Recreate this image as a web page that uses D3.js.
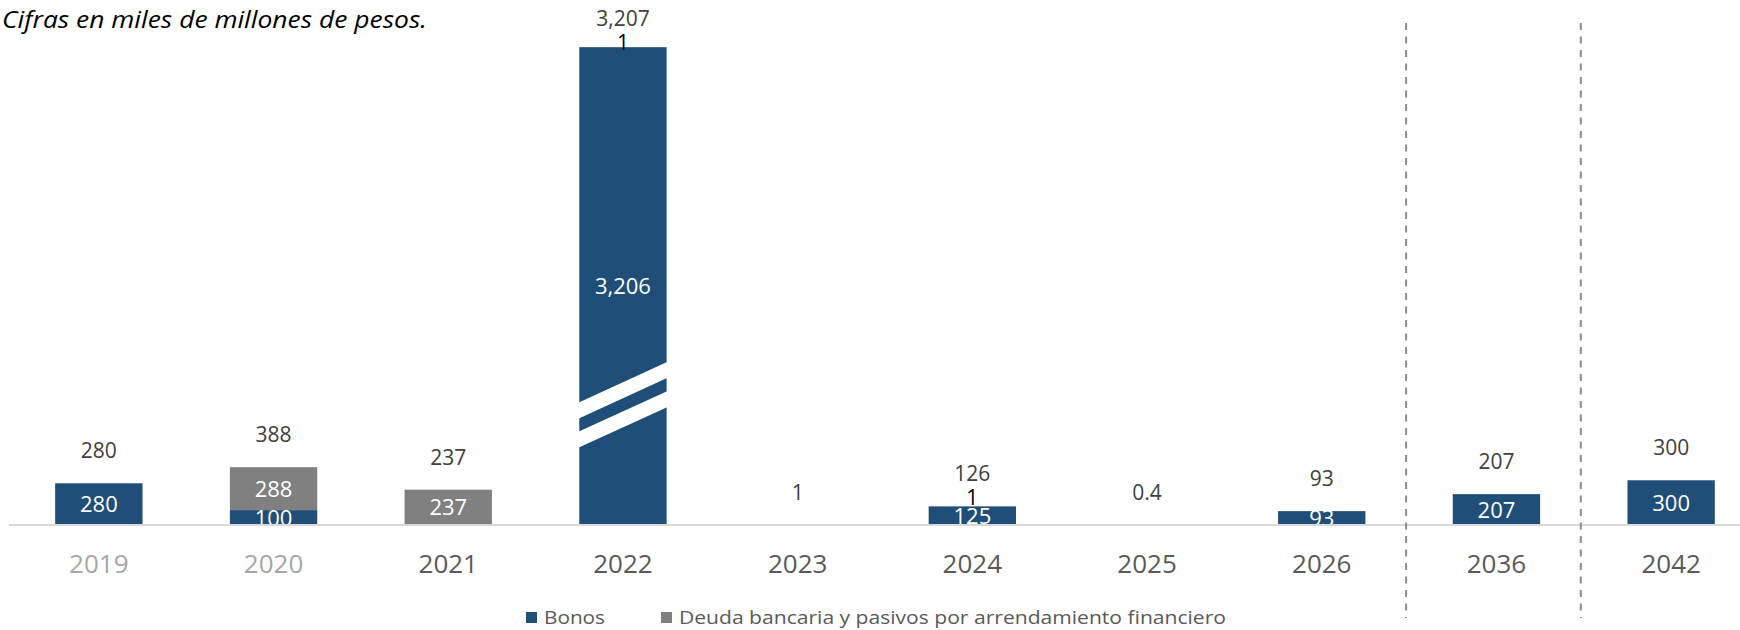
<!DOCTYPE html>
<html>
<head>
<meta charset="utf-8">
<script src="https://cdn.jsdelivr.net/npm/d3@7"></script>
<style>
  html, body { margin: 0; padding: 0; background: #fff; }
  svg { display: block; font-family: "Open Sans", "Noto Sans", sans-serif; }
</style>
</head>
<body>
<svg id="chart" width="1740" height="630"></svg>
<script>
// ---- Data ----
const years = ["2019", "2020", "2021", "2022", "2023", "2024", "2025", "2026", "2036", "2042"];
const bonos = [280, 100, 0, 3206, 0, 125, 0, 93, 207, 300];
const deuda = [0, 288, 237, 1, 1, 1, 0.4, 0, 0, 0];
const totals = [280, 388, 237, 3207, 1, 126, 0.4, 93, 207, 300];
const pastYears = ["2019", "2020"];
const dividerBefore = ["2036", "2042"];
const seriesNames = ["Bonos", "Deuda bancaria y pasivos por arrendamiento financiero"];
const title = "Cifras en miles de millones de pesos.";

// ---- Styles ----
const colors = ["#1F4E79", "#808080"];
const W = 1740, H = 630;
const baseY = 525, topY = 47;

const svg = d3.select("#chart");
const fmt = d3.format(",");

const x = d3.scaleBand().domain(years).range([11.5, 1758.5]).paddingInner(0.5).paddingOuter(0.25);
const y = d3.scaleLinear().domain([0, d3.max(totals)]).range([baseY, topY]);

const rows = years.map((yr, i) => ({ year: yr, bonos: bonos[i], deuda: deuda[i], total: totals[i] }));
const stack = d3.stack().keys(["bonos", "deuda"])(rows);

// clip for labels at the baseline
svg.append("defs").append("clipPath").attr("id", "plotClip")
  .append("rect").attr("x", 0).attr("y", 0).attr("width", W).attr("height", baseY - 1);

// title
svg.append("text").attr("x", 2).attr("y", 28)
  .attr("font-size", 24).attr("font-style", "italic").attr("fill", "#000")
  .attr("textLength", 425).attr("lengthAdjust", "spacingAndGlyphs")
  .text(title);

// bars
const gBars = svg.append("g");
stack.forEach((s, si) => {
  gBars.selectAll(null).data(s.filter(d => d[1] - d[0] > 0)).join("rect")
    .attr("x", d => x(d.data.year))
    .attr("width", x.bandwidth())
    .attr("y", d => y(d[1]))
    .attr("height", d => Math.max(0, y(d[0]) - y(d[1])))
    .attr("fill", colors[si]);
});

// axis break decoration on the tall bar
const tallest = rows.reduce((a, b) => (b.total > a.total ? b : a));
const bx0 = x(tallest.year) - 1, bx1 = x(tallest.year) + x.bandwidth() + 1;
const slope = 40 / x.bandwidth();
[y(820), y(625)].forEach(yl => {
  const yr = yl - slope * (bx1 - bx0);
  svg.append("polygon")
    .attr("points", [[bx0, yl], [bx1, yr], [bx1, yr + 16], [bx0, yl + 16]].map(p => p.join(",")).join(" "))
    .attr("fill", "#fff");
});

// inside labels (white)
const gIn = svg.append("g").attr("clip-path", "url(#plotClip)");
stack.forEach((s) => {
  gIn.selectAll(null).data(s.filter(d => d[1] - d[0] >= 50)).join("text")
    .attr("x", d => x(d.data.year) + x.bandwidth() / 2)
    .attr("y", d => (y(d[0]) + y(d[1])) / 2 + 8)
    .attr("text-anchor", "middle")
    .attr("font-size", 22)
    .attr("fill", "#fff")
    .text(d => fmt(d[1] - d[0]));
});

// total labels
const totalBase = d => Math.max(y(d.total) - 25, 26);
svg.append("g").selectAll("text").data(rows).join("text")
  .attr("x", d => x(d.year) + x.bandwidth() / 2)
  .attr("y", d => totalBase(d))
  .attr("text-anchor", "middle")
  .attr("font-size", 21)
  .attr("fill", "#404040")
  .text(d => fmt(d.total));

// tiny segment labels (black) in multi-segment stacks
svg.append("g").selectAll("text").data(rows.filter(d => d.deuda > 0 && d.deuda < 50 && d.bonos > 0)).join("text")
  .attr("x", d => x(d.year) + x.bandwidth() / 2)
  .attr("y", d => Math.max(y(d.total) - 6, totalBase(d) + 24))
  .attr("text-anchor", "middle")
  .attr("font-size", 21)
  .attr("fill", "#000")
  .text(d => fmt(d.deuda));

// baseline
svg.append("line").attr("x1", 9).attr("x2", W).attr("y1", baseY).attr("y2", baseY)
  .attr("stroke", "#D9D9D9").attr("stroke-width", 2);

// x axis labels
const xAxis = d3.axisBottom(x).tickSize(0).tickPadding(0);
const gx = svg.append("g").attr("transform", `translate(0,${baseY})`).call(xAxis);
gx.select(".domain").remove();
gx.selectAll(".tick text")
  .attr("y", 48).attr("dy", 0)
  .attr("font-size", 26)
  .attr("font-family", "'Open Sans', sans-serif")
  .attr("fill", d => pastYears.includes(d) ? "#A6A6A6" : "#595959");

// dashed dividers
const gap = x.step() - x.bandwidth();
svg.append("g").selectAll("line").data(dividerBefore).join("line")
  .attr("x1", d => x(d) - gap / 2 - 3).attr("x2", d => x(d) - gap / 2 - 3)
  .attr("y1", 23).attr("y2", 618)
  .attr("stroke", "#8C8C8C").attr("stroke-width", 2)
  .attr("stroke-dasharray", "7,6.5");

// legend
const legend = svg.append("g");
const legendItems = [
  { name: seriesNames[0], color: colors[0], x: 526, len: 61 },
  { name: seriesNames[1], color: colors[1], x: 661, len: 547 }
];
legendItems.forEach(it => {
  legend.append("rect").attr("x", it.x).attr("y", 612).attr("width", 11).attr("height", 11).attr("fill", it.color);
  legend.append("text").attr("x", it.x + 18).attr("y", 624)
    .attr("font-size", 19).attr("fill", "#595959")
    .attr("textLength", it.len).attr("lengthAdjust", "spacingAndGlyphs")
    .text(it.name);
});
</script>
</body>
</html>
